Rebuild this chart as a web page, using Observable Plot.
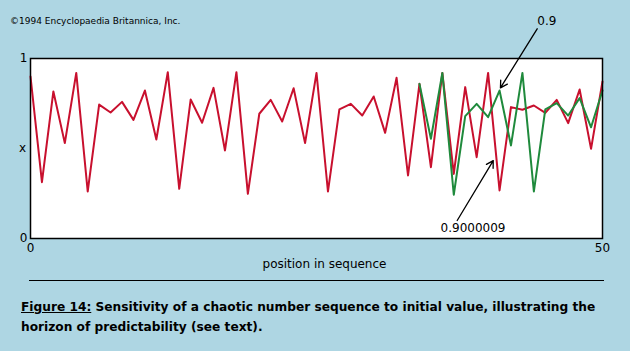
<!DOCTYPE html>
<html>
<head>
<meta charset="utf-8">
<script src="https://cdn.jsdelivr.net/npm/d3@7"></script>
<script src="https://cdn.jsdelivr.net/npm/@observablehq/plot@0.6"></script>
<style>
  html, body { margin: 0; padding: 0; background: #aed6e3; }
  #wrap { position: relative; width: 630px; height: 351px; overflow: hidden; background: #aed6e3; }
  #copy { position: absolute; left: 10px; top: 16px; font: 9px "DejaVu Sans", sans-serif; color: #000; white-space: nowrap; }
  #chart { position: absolute; left: 0; top: 0; }
  #rule { position: absolute; left: 29px; top: 280px; width: 575px; border-top: 1.5px solid #000; }
  #caption { position: absolute; left: 21px; top: 297px; font: bold 12.2px/20px "DejaVu Sans", sans-serif; color: #000; white-space: nowrap; }
  #caption u { text-decoration: underline; }
</style>
</head>
<body>
<div id="wrap">
  <div id="chart"></div>
  <div id="copy">©1994 Encyclopaedia Britannica, Inc.</div>
  <div id="rule"></div>
  <div id="caption"><u>Figure 14:</u> Sensitivity of a chaotic number sequence to initial value, illustrating the<br>horizon of predictability (see text).</div>
</div>
<script>
// Sequence starting at 0.9 (red), positions 0..50
const redValues = [0.90,0.313,0.817,0.53,0.92,0.261,0.744,0.70,0.759,0.659,0.822,0.55,0.924,0.276,0.772,0.643,0.837,0.489,0.924,0.248,0.693,0.77,0.65,0.835,0.53,0.92,0.261,0.717,0.748,0.683,0.789,0.587,0.893,0.35,0.859,0.396,0.92,0.359,0.841,0.452,0.92,0.267,0.73,0.715,0.739,0.698,0.77,0.641,0.828,0.498,0.872];
// Sequence starting at 0.9000009 (green), visible from position 34 onward
const greenStart = 34;
const greenValues = [0.859,0.554,0.92,0.243,0.68,0.748,0.674,0.822,0.517,0.92,0.261,0.717,0.752,0.683,0.78,0.618,0.822];
const xTicks = [0, 50];
const yTicks = [0, 1];
const xLabel = "position in sequence";
const yLabel = "x";
// Annotations (data coordinates)
const annotations = [
  {label: "0.9", lx: 45.13, ly: 1.208, x1: 44.29, y1: 1.165, x2: 41.08, y2: 0.837},
  {label: "0.9000009", lx: 38.68, ly: 0.056, x1: 37.3, y1: 0.10, x2: 40.45, y2: 0.433}
];

const chart = Plot.plot({
  width: 630,
  height: 351,
  marginLeft: 30,
  marginRight: 28,
  marginTop: 58,
  marginBottom: 113,
  style: {background: "transparent", fontFamily: "DejaVu Sans", fontSize: "12px", color: "black", overflow: "visible"},
  x: {domain: [0, 50]},
  y: {domain: [0, 1]},
  marks: [
    Plot.frame({fill: "white", stroke: null}),
    Plot.line(redValues, {x: (d, i) => i, y: d => d, stroke: "#c8102e", strokeWidth: 2}),
    Plot.line(greenValues, {x: (d, i) => greenStart + i, y: d => d, stroke: "#1f8a3c", strokeWidth: 2}),
    Plot.frame({stroke: "black", strokeWidth: 1.5}),
    Plot.axisX({ticks: xTicks, tickSize: 0, tickPadding: 5, label: null, fontSize: 12, tickFormat: d3.format("d")}),
    Plot.axisY({ticks: yTicks, tickSize: 0, tickPadding: 3, label: null, fontSize: 12, tickFormat: d3.format("d")}),
    Plot.text([xLabel], {frameAnchor: "bottom", dy: 26, dx: 8, lineAnchor: "middle", fontSize: 12}),
    Plot.text([yLabel], {frameAnchor: "left", dx: -8, textAnchor: "middle", lineAnchor: "middle", fontSize: 12}),
    Plot.arrow(annotations, {x1: "x1", y1: "y1", x2: "x2", y2: "y2", stroke: "black", strokeWidth: 1.3, headLength: 9}),
    Plot.text(annotations, {x: "lx", y: "ly", text: "label", fontSize: 12, lineAnchor: "middle"})
  ]
});
document.getElementById("chart").appendChild(chart);
</script>
</body>
</html>
